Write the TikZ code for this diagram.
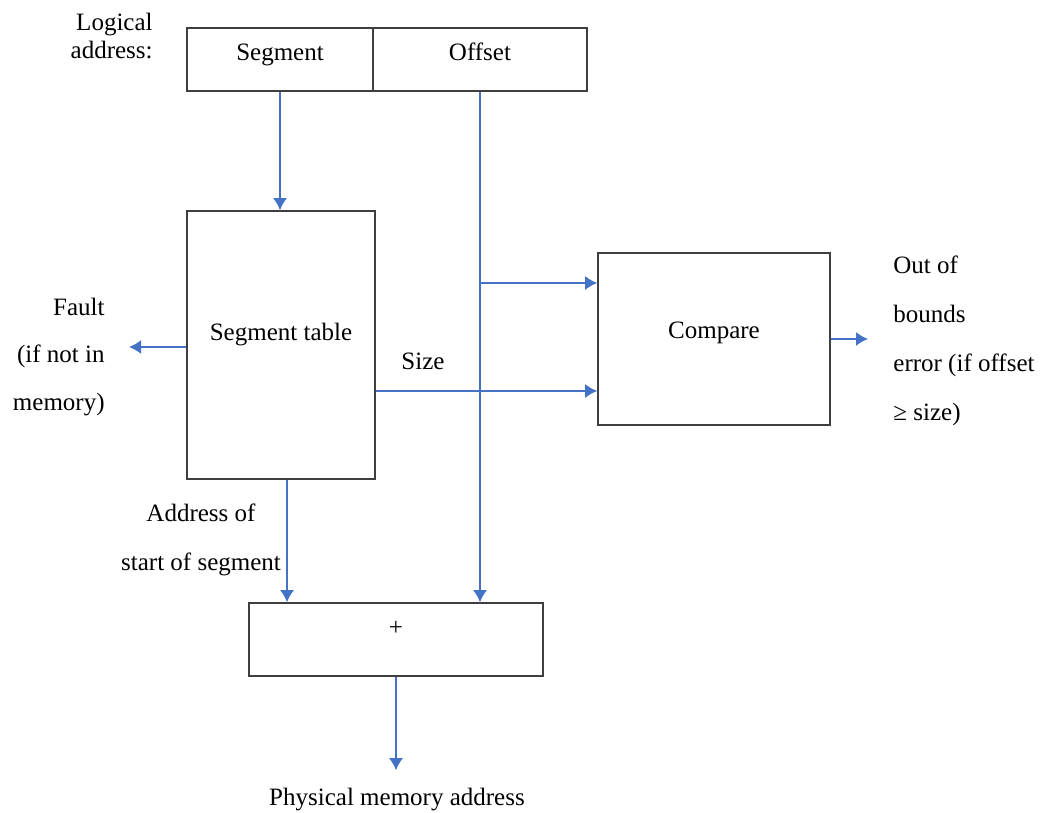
\documentclass[tikz,border=0pt]{standalone}
\usepackage{fontspec}
\setmainfont{Liberation Serif}
\usetikzlibrary{arrows.meta,positioning}
\definecolor{arrowblue}{HTML}{4472C4}
\definecolor{boxgray}{HTML}{3F3F3F}

\begin{document}
\begin{tikzpicture}[x=0.5pt,y=-0.5pt,>={Latex[length=6pt,width=7pt]},
  font=\fontsize{12.5}{15}\selectfont,
  box/.style={draw=boxgray,line width=0.8pt,inner sep=0pt,text height=9pt},
  txt/.style={inner sep=0pt},
  arr/.style={->,draw=arrowblue,line width=0.8pt}]
\useasboundingbox (0,0) rectangle (1044,813);

% boxes
\node[box,minimum width=93pt,minimum height=31.5pt,text depth=7.5pt] (seg) at (280,59.5) {Segment};
\node[box,minimum width=107pt,minimum height=31.5pt,text depth=7.5pt] (off) at (480,59.5) {Offset};
\node[box,minimum width=94pt,minimum height=134pt,text depth=14pt] (table) at (281,345) {Segment table};
\node[box,minimum width=116pt,minimum height=86pt,text depth=10pt] (cmp) at (714,339) {Compare};
\node[box,minimum width=147pt,minimum height=36.5pt,text depth=13.5pt] (plus) at (396,639.5) {+};

% labels
\node[txt,anchor=east,align=right,font=\fontsize{12.5}{14}\selectfont] (logical) at (153,36) {Logical\\address:};
\node[txt,anchor=east,align=right,font=\fontsize{12.5}{23.75}\selectfont] (fault) at (105,357) {Fault\\(if not in\\memory)};
\node[txt] (size) at (423,361) {Size};
\node[txt,align=center,font=\fontsize{12.5}{24.5}\selectfont] (start) at (201,540) {Address of\\start of segment};
\node[txt,anchor=west,align=left,font=\fontsize{12.5}{24.5}\selectfont] (oob) at (893,341) {Out of\\bounds\\error (if offset\\≥ size)};
\node[txt] (phys) at (397,800) {Physical memory address};

\coordinate (cmpin1) at ([yshift=28pt]cmp.west);
\coordinate (cmpin2) at ([yshift=-26pt]cmp.west);
\coordinate (addrtop) at ([xshift=3pt]table.south);
\coordinate (faultout) at ([yshift=-1pt]table.west);

% connectors
\draw[arr] (seg.south) -- (seg.south |- table.north);
\draw[arr] (off.south) -- (off.south |- plus.north);
\draw[arr] (cmpin1 -| off.south) -- (cmpin1);
\draw[arr] (table.east |- cmpin2) -- (cmpin2);
\draw[arr,shorten >=12pt] (faultout) -- (faultout -| fault.east);
\draw[arr,shorten >=12.5pt] (cmp.east) -- (cmp.east -| oob.west);
\draw[arr] (addrtop) -- (addrtop |- plus.north);
\draw[arr,shorten >=9pt] (plus.south) -- (plus.south |- phys.north);
\end{tikzpicture}
\end{document}
